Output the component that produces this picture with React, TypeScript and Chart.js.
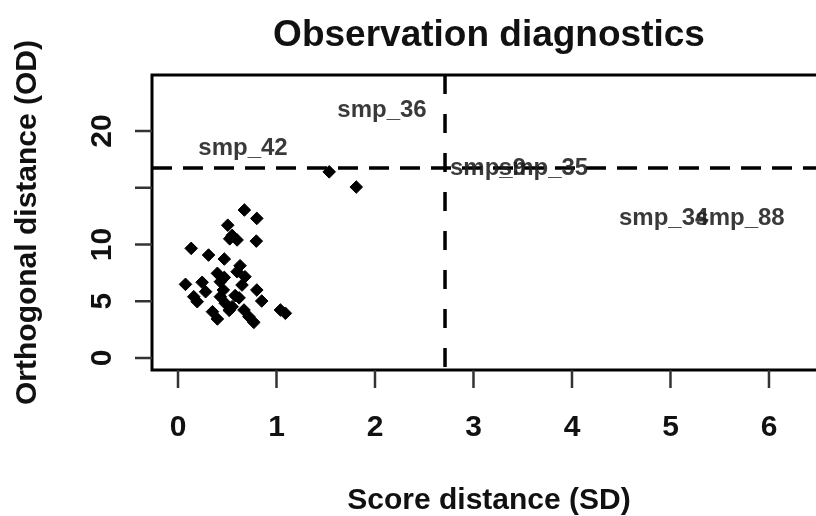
import { useEffect, useRef } from "react";
import { Chart, registerables } from "chart.js";

Chart.register(...registerables);

// Score distance (SD) and orthogonal distance (OD) for each observation
const sdValues = [
  0.674, 0.8, 0.505, 0.55, 0.6, 0.525, 0.795, 0.134, 0.31, 0.47,
  0.63, 0.4, 0.68, 0.076, 0.245, 0.43, 0.65, 0.28, 0.46, 0.8,
  0.16, 0.43, 0.58, 0.48, 0.55, 0.85, 1.04, 1.09, 0.35, 0.4,
  0.67, 0.72, 0.77, 0.195, 0.47, 0.6, 0.52, 0.62, 1.535, 1.81,
];
const odValues = [
  13.04, 12.3, 11.7, 10.8, 10.4, 10.5, 10.3, 9.66, 9.07, 8.72,
  8.13, 7.46, 7.16, 6.49, 6.67, 6.72, 6.43, 5.84, 5.99, 5.99,
  5.4, 5.4, 5.5, 4.82, 4.52, 5.02, 4.23, 3.94, 4.08, 3.44,
  4.23, 3.64, 3.14, 4.96, 7.1, 7.6, 4.2, 5.3, 16.4, 15.06,
];

// Flagged observations and where their names sit
const sampleNames = ["smp_36", "smp_42", "smp_9", "smp_35", "smp_34", "smp_88"];
const sampleSD = [2.071, 0.66, 3.147, 3.711, 4.931, 5.706];
const sampleOD = [21.98, 18.68, 16.87, 16.87, 12.47, 12.47];

// Critical limits
const sdLimit = 2.711;
const odLimit = 16.74;

// Axis ticks
const xTicks = [0, 1, 2, 3, 4, 5, 6];
const xTickLabels = ["0", "1", "2", "3", "4", "5", "6"];
const yTicks = [0, 5, 10, 15, 20];
const yTickLabels = ["0", "5", "10", "", "20"];

const titleText = "Observation diagnostics";
const xTitle = "Score distance (SD)";
const yTitle = "Orthogonal distance (OD)";

const FONT = '"Liberation Sans", Arial, sans-serif';

function capText(
  ctx: CanvasRenderingContext2D,
  text: string,
  x: number,
  y: number,
  size: number,
  weight: string,
  color: string,
  angle = 0
) {
  ctx.save();
  ctx.translate(x, y);
  if (angle) ctx.rotate(angle);
  ctx.font = `${weight} ${size}px ${FONT}`;
  ctx.fillStyle = color;
  ctx.textAlign = "center";
  ctx.textBaseline = "alphabetic";
  ctx.fillText(text, 0, size * 0.358);
  ctx.restore();
}

const limitsPlugin = {
  id: "limits",
  beforeDatasetsDraw(chart: any) {
    const { ctx, chartArea, scales } = chart;
    const xs = scales.x;
    const ys = scales.y;
    ctx.save();
    ctx.strokeStyle = "#000";
    ctx.lineWidth = 3.5;
    ctx.setLineDash([20, 11]);
    const yp = ys.getPixelForValue(odLimit);
    ctx.beginPath();
    ctx.moveTo(chartArea.left, yp);
    ctx.lineTo(chartArea.right, yp);
    ctx.stroke();
    ctx.setLineDash([19, 20]);
    const xp = xs.getPixelForValue(sdLimit);
    ctx.beginPath();
    ctx.moveTo(xp, chartArea.top);
    ctx.lineTo(xp, chartArea.bottom);
    ctx.stroke();
    ctx.restore();
  },
  afterDraw(chart: any) {
    const { ctx, chartArea, scales } = chart;
    const xs = scales.x;
    const ys = scales.y;
    const { left, right, top, bottom } = chartArea;

    // sample names
    sampleNames.forEach((name, i) => {
      capText(
        ctx,
        name,
        xs.getPixelForValue(sampleSD[i]),
        ys.getPixelForValue(sampleOD[i]),
        24,
        "bold",
        "rgba(30,30,30,0.88)"
      );
    });

    // plot box
    ctx.save();
    ctx.strokeStyle = "#000";
    ctx.lineWidth = 3;
    ctx.setLineDash([]);
    ctx.strokeRect(left, top, right - left, bottom - top);

    // tick marks
    ctx.strokeStyle = "#333";
    ctx.lineWidth = 2.5;
    xTicks.forEach((v) => {
      const p = xs.getPixelForValue(v);
      ctx.beginPath();
      ctx.moveTo(p, bottom);
      ctx.lineTo(p, bottom + 18);
      ctx.stroke();
    });
    yTicks.forEach((v) => {
      const p = ys.getPixelForValue(v);
      ctx.beginPath();
      ctx.moveTo(left, p);
      ctx.lineTo(left - 17, p);
      ctx.stroke();
    });
    ctx.restore();

    // tick labels
    xTicks.forEach((v, i) => {
      capText(ctx, xTickLabels[i], xs.getPixelForValue(v), 425, 30, "bold", "#111");
    });
    yTicks.forEach((v, i) => {
      if (!yTickLabels[i]) return;
      capText(ctx, yTickLabels[i], 100, ys.getPixelForValue(v), 30, "bold", "#111", -Math.PI / 2);
    });

    // titles
    const cx = (left + right) / 2;
    capText(ctx, titleText, cx, 33, 37, "bold", "#111");
    capText(ctx, xTitle, cx, 498, 30, "bold", "#111");
    capText(ctx, yTitle, 25, (top + bottom) / 2, 30, "bold", "#111", -Math.PI / 2);
  },
};

export default function App() {
  const canvasRef = useRef<HTMLCanvasElement | null>(null);

  useEffect(() => {
    const canvas = canvasRef.current;
    if (!canvas) return;
    const points = sdValues.map((x, i) => ({ x, y: odValues[i] }));
    const chart = new Chart(canvas, {
      type: "scatter",
      data: {
        datasets: [
          {
            data: points,
            pointStyle: "rectRot",
            pointRadius: 6.3,
            pointBackgroundColor: "#000",
            pointBorderColor: "#000",
            pointBorderWidth: 1,
          },
        ],
      },
      options: {
        responsive: false,
        animation: false,
        layout: { padding: { left: 152, top: 75, right: 14, bottom: 146 } },
        scales: {
          x: {
            type: "linear",
            min: -0.264,
            max: 6.579,
            grid: { display: false },
            ticks: { display: false },
            border: { display: false },
            afterFit: (s: any) => {
              s.height = 0;
            },
          },
          y: {
            type: "linear",
            min: -1.057,
            max: 24.934,
            grid: { display: false },
            ticks: { display: false },
            border: { display: false },
            afterFit: (s: any) => {
              s.width = 0;
            },
          },
        },
        plugins: {
          legend: { display: false },
          tooltip: { enabled: false },
          title: { display: false },
        },
      },
      plugins: [limitsPlugin],
    });
    return () => chart.destroy();
  }, []);

  return (
    <div
      style={{
        position: "fixed",
        left: 0,
        top: 0,
        width: 816,
        height: 516,
        overflow: "hidden",
        background: "#fff",
      }}
    >
      <canvas ref={canvasRef} width={840} height={516} style={{ width: 840, height: 516, display: "block" }} />
    </div>
  );
}
